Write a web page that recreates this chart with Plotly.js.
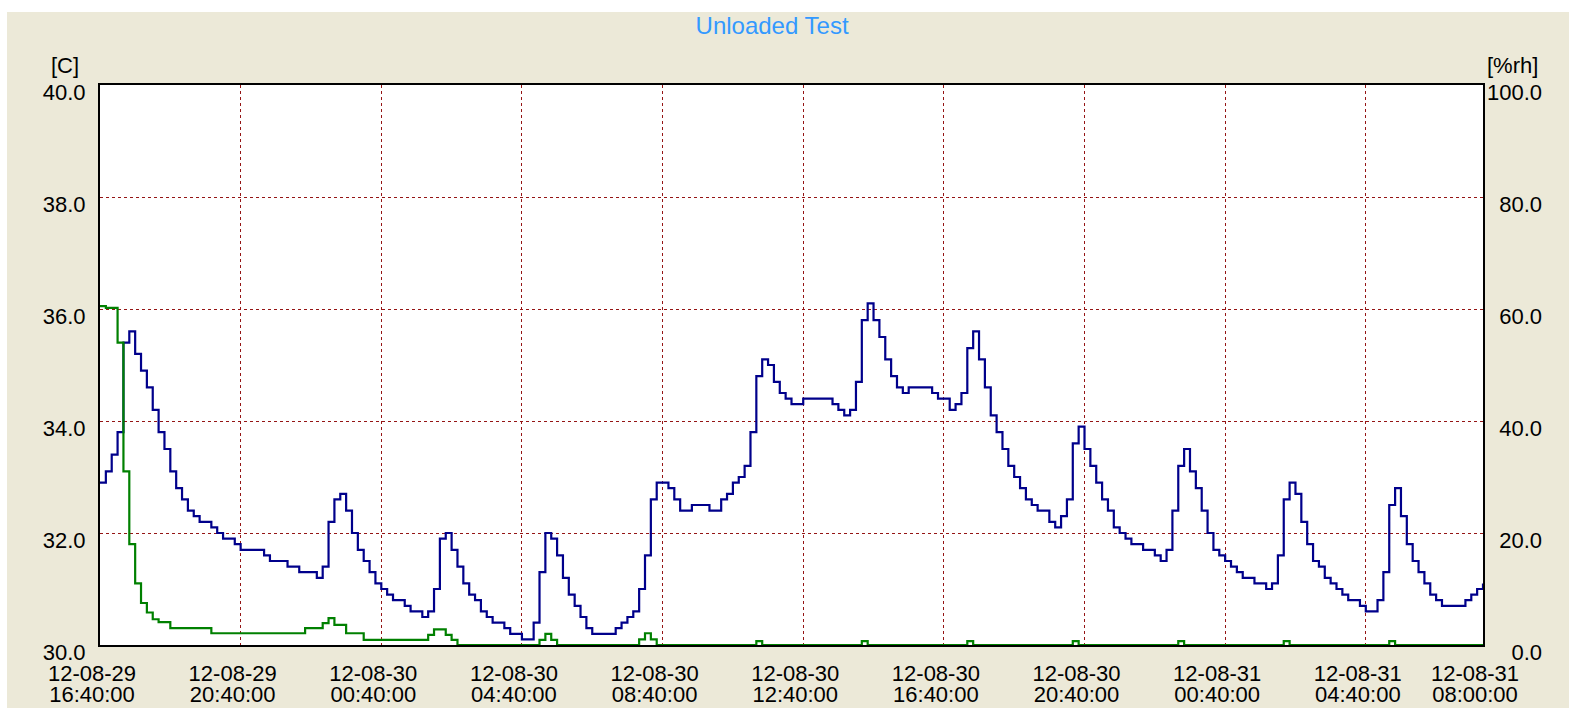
<!DOCTYPE html>
<html>
<head>
<meta charset="utf-8">
<script src="https://cdn.plot.ly/plotly-3.0.1.min.js"></script>
<style>
  html, body { margin: 0; padding: 0; background: #ffffff; width: 1569px; height: 708px; overflow: hidden; }
  #chart { position: absolute; left: 7px; top: 12px; width: 1562px; height: 696px; }
</style>
</head>
<body>
<div id="chart"></div>
<script>
// ---- DATA (logged every 10 minutes from 2012-08-29 16:40:00) ----
const startTime = '2012-08-29T16:40:00';
const intervalMinutes = 10;

const tempC = [
  32.9, 33.1, 33.4, 33.8, 35.4, 35.6, 35.2, 34.9, 34.6, 34.2,
  33.8, 33.5, 33.1, 32.8, 32.6, 32.4, 32.3, 32.2, 32.2, 32.1,
  32.0, 31.9, 31.9, 31.8, 31.7, 31.7, 31.7, 31.7, 31.6, 31.5,
  31.5, 31.5, 31.4, 31.4, 31.3, 31.3, 31.3, 31.2, 31.4, 32.2,
  32.6, 32.7, 32.4, 32.0, 31.7, 31.5, 31.3, 31.1, 31.0, 30.9,
  30.8, 30.8, 30.7, 30.6, 30.6, 30.5, 30.6, 31.0, 31.9, 32.0,
  31.7, 31.4, 31.1, 30.9, 30.8, 30.6, 30.5, 30.4, 30.4, 30.3,
  30.2, 30.2, 30.1, 30.1, 30.4, 31.3, 32.0, 31.9, 31.6, 31.2,
  30.9, 30.7, 30.5, 30.3, 30.2, 30.2, 30.2, 30.2, 30.3, 30.4,
  30.5, 30.6, 31.0, 31.6, 32.6, 32.9, 32.9, 32.8, 32.6, 32.4,
  32.4, 32.5, 32.5, 32.5, 32.4, 32.4, 32.6, 32.7, 32.9, 33.0,
  33.2, 33.8, 34.8, 35.1, 35.0, 34.7, 34.5, 34.4, 34.3, 34.3,
  34.4, 34.4, 34.4, 34.4, 34.4, 34.3, 34.2, 34.1, 34.2, 34.7,
  35.8, 36.1, 35.8, 35.5, 35.1, 34.8, 34.6, 34.5, 34.6, 34.6,
  34.6, 34.6, 34.5, 34.4, 34.4, 34.2, 34.3, 34.5, 35.3, 35.6,
  35.1, 34.6, 34.1, 33.8, 33.5, 33.2, 33.0, 32.8, 32.6, 32.5,
  32.4, 32.4, 32.2, 32.1, 32.3, 32.6, 33.6, 33.9, 33.5, 33.2,
  32.9, 32.6, 32.4, 32.1, 32.0, 31.9, 31.8, 31.8, 31.7, 31.7,
  31.6, 31.5, 31.7, 32.4, 33.2, 33.5, 33.1, 32.8, 32.4, 32.0,
  31.7, 31.6, 31.5, 31.4, 31.3, 31.2, 31.2, 31.1, 31.1, 31.0,
  31.1, 31.6, 32.6, 32.9, 32.7, 32.2, 31.8, 31.5, 31.4, 31.2,
  31.1, 31.0, 30.9, 30.8, 30.8, 30.7, 30.6, 30.6, 30.8, 31.3,
  32.5, 32.8, 32.3, 31.8, 31.5, 31.3, 31.1, 30.9, 30.8, 30.7,
  30.7, 30.7, 30.7, 30.8, 30.9, 31.0, 31.1
];

const rhPct = [
  60.5, 60.2, 60.2, 54.0, 31.0, 18.0, 11.0, 7.5, 5.8, 4.6,
  4.1, 4.1, 3.0, 3.0, 3.0, 3.0, 3.0, 3.0, 3.0, 2.1,
  2.1, 2.1, 2.1, 2.1, 2.1, 2.1, 2.1, 2.1, 2.1, 2.1,
  2.1, 2.1, 2.1, 2.1, 2.1, 3.0, 3.0, 3.0, 3.9, 4.8,
  3.6, 3.6, 2.1, 2.1, 2.1, 0.9, 0.9, 0.9, 0.9, 0.9,
  0.9, 0.9, 0.9, 0.9, 0.9, 0.9, 1.8, 2.8, 2.8, 1.8,
  0.9, 0, 0, 0, 0, 0, 0, 0, 0, 0,
  0, 0, 0, 0, 0, 0.9, 2.0, 0.9, 0, 0,
  0, 0, 0, 0, 0, 0, 0, 0, 0, 0,
  0, 0, 1.0, 2.1, 1.0, 0, 0, 0, 0, 0,
  0, 0, 0, 0, 0, 0, 0, 0, 0, 0,
  0, 0, 0.7, 0, 0, 0, 0, 0, 0, 0,
  0, 0, 0, 0, 0, 0, 0, 0, 0, 0,
  0.7, 0, 0, 0, 0, 0, 0, 0, 0, 0,
  0, 0, 0, 0, 0, 0, 0, 0, 0.7, 0,
  0, 0, 0, 0, 0, 0, 0, 0, 0, 0,
  0, 0, 0, 0, 0, 0, 0.7, 0, 0, 0,
  0, 0, 0, 0, 0, 0, 0, 0, 0, 0,
  0, 0, 0, 0, 0.7, 0, 0, 0, 0, 0,
  0, 0, 0, 0, 0, 0, 0, 0, 0, 0,
  0, 0, 0.7, 0, 0, 0, 0, 0, 0, 0,
  0, 0, 0, 0, 0, 0, 0, 0, 0, 0,
  0.7, 0, 0, 0, 0, 0, 0, 0, 0, 0,
  0, 0, 0, 0, 0, 0, 0
];

const xTickVals = [
  '2012-08-29 16:40:00', '2012-08-29 20:40:00', '2012-08-30 00:40:00',
  '2012-08-30 04:40:00', '2012-08-30 08:40:00', '2012-08-30 12:40:00',
  '2012-08-30 16:40:00', '2012-08-30 20:40:00', '2012-08-31 00:40:00',
  '2012-08-31 04:40:00', '2012-08-31 08:00:00'
];
const xTickDates = [
  '12-08-29', '12-08-29', '12-08-30', '12-08-30', '12-08-30', '12-08-30',
  '12-08-30', '12-08-30', '12-08-31', '12-08-31', '12-08-31'
];
const xTickTimes = [
  '16:40:00', '20:40:00', '00:40:00', '04:40:00', '08:40:00', '12:40:00',
  '16:40:00', '20:40:00', '00:40:00', '04:40:00', '08:00:00'
];
const tempTickVals = [30, 32, 34, 36, 38, 40];
const tempTickText = ['30.0', '32.0', '34.0', '36.0', '38.0', '40.0'];
const rhTickVals = [0, 20, 40, 60, 80, 100];
const rhTickText = ['\u2007\u20070.0', '\u200720.0', '\u200740.0', '\u200760.0', '\u200780.0', '100.0'];

// ---- sample timestamps ----
function pad(n) { return (n < 10 ? '0' : '') + n; }
const t0 = new Date(startTime + 'Z').getTime();
const times = tempC.map((_, i) => {
  const d = new Date(t0 + i * intervalMinutes * 60000);
  return d.getUTCFullYear() + '-' + pad(d.getUTCMonth() + 1) + '-' + pad(d.getUTCDate()) + ' ' +
         pad(d.getUTCHours()) + ':' + pad(d.getUTCMinutes()) + ':00';
});

const FONT = 'Liberation Sans, Arial, sans-serif';
const GRID = '#951515';
const X_RANGE = ['2012-08-29 16:40:00', '2012-08-31 08:00:00'];

const traces = [
  {
    x: times, y: rhPct, xaxis: 'x2', yaxis: 'y2', type: 'scatter', mode: 'lines',
    line: { color: '#008000', width: 2.2, shape: 'hv' }, name: '%rh'
  },
  {
    x: times, y: tempC, xaxis: 'x', yaxis: 'y', type: 'scatter', mode: 'lines',
    line: { color: '#00008B', width: 2.2, shape: 'hv' }, name: 'C'
  }
];

const layout = {
  width: 1562, height: 696,
  paper_bgcolor: '#ECE9D8', plot_bgcolor: '#ffffff',
  margin: { l: 93, r: 86, t: 73, b: 63, pad: 0 },
  showlegend: false,
  font: { family: FONT, size: 22, color: '#000000' },
  title: {
    text: 'Unloaded Test',
    font: { family: FONT, size: 24, color: '#3399FF' },
    x: 0.4898, xref: 'container', xanchor: 'center',
    y: 0.981, yref: 'container', yanchor: 'middle'
  },
  xaxis: {
    type: 'date', range: X_RANGE,
    tickmode: 'array', tickvals: xTickVals, ticktext: xTickDates,
    showgrid: true, gridcolor: GRID, gridwidth: 1, griddash: '3px,3px',
    showline: true, mirror: true, linecolor: '#000000', linewidth: 2,
    ticks: '', zeroline: false, layer: 'below traces',
    tickfont: { family: FONT, size: 22, color: '#000000' },
    ticklabelshift: -8, ticklabelstandoff: 8
  },
  xaxis2: {
    type: 'date', range: X_RANGE, matches: 'x', overlaying: 'x', side: 'bottom', anchor: 'y2',
    tickmode: 'array', tickvals: xTickVals, ticktext: xTickTimes,
    showgrid: false, showline: false, ticks: '', zeroline: false,
    tickfont: { family: FONT, size: 22, color: '#000000' },
    ticklabelshift: -8, ticklabelstandoff: 34
  },
  yaxis: {
    range: [30, 40],
    tickmode: 'array', tickvals: tempTickVals, ticktext: tempTickText,
    showgrid: true, gridcolor: GRID, gridwidth: 1, griddash: '3px,3px',
    showline: true, mirror: true, linecolor: '#000000', linewidth: 2,
    ticks: '', zeroline: false, layer: 'below traces',
    tickfont: { family: FONT, size: 22, color: '#000000' },
    ticklabelshift: 7, ticklabelstandoff: 8
  },
  yaxis2: {
    range: [0, 100], overlaying: 'y', side: 'right', anchor: 'x2',
    tickmode: 'array', tickvals: rhTickVals, ticktext: rhTickText,
    showgrid: false, showline: false, ticks: '', zeroline: false,
    tickfont: { family: FONT, size: 22, color: '#000000' },
    ticklabelshift: 7, ticklabelstandoff: 3
  },
  annotations: [
    { text: '[C]', xref: 'paper', yref: 'paper', x: 0, y: 1, xanchor: 'right', yanchor: 'middle',
      xshift: -19, yshift: 20, showarrow: false, font: { family: FONT, size: 22, color: '#000000' } },
    { text: '[%rh]', xref: 'paper', yref: 'paper', x: 1, y: 1, xanchor: 'left', yanchor: 'middle',
      xshift: 2, yshift: 20, showarrow: false, font: { family: FONT, size: 22, color: '#000000' } }
  ]
};

Plotly.newPlot('chart', traces, layout, { displayModeBar: false, staticPlot: true });
</script>
</body>
</html>
